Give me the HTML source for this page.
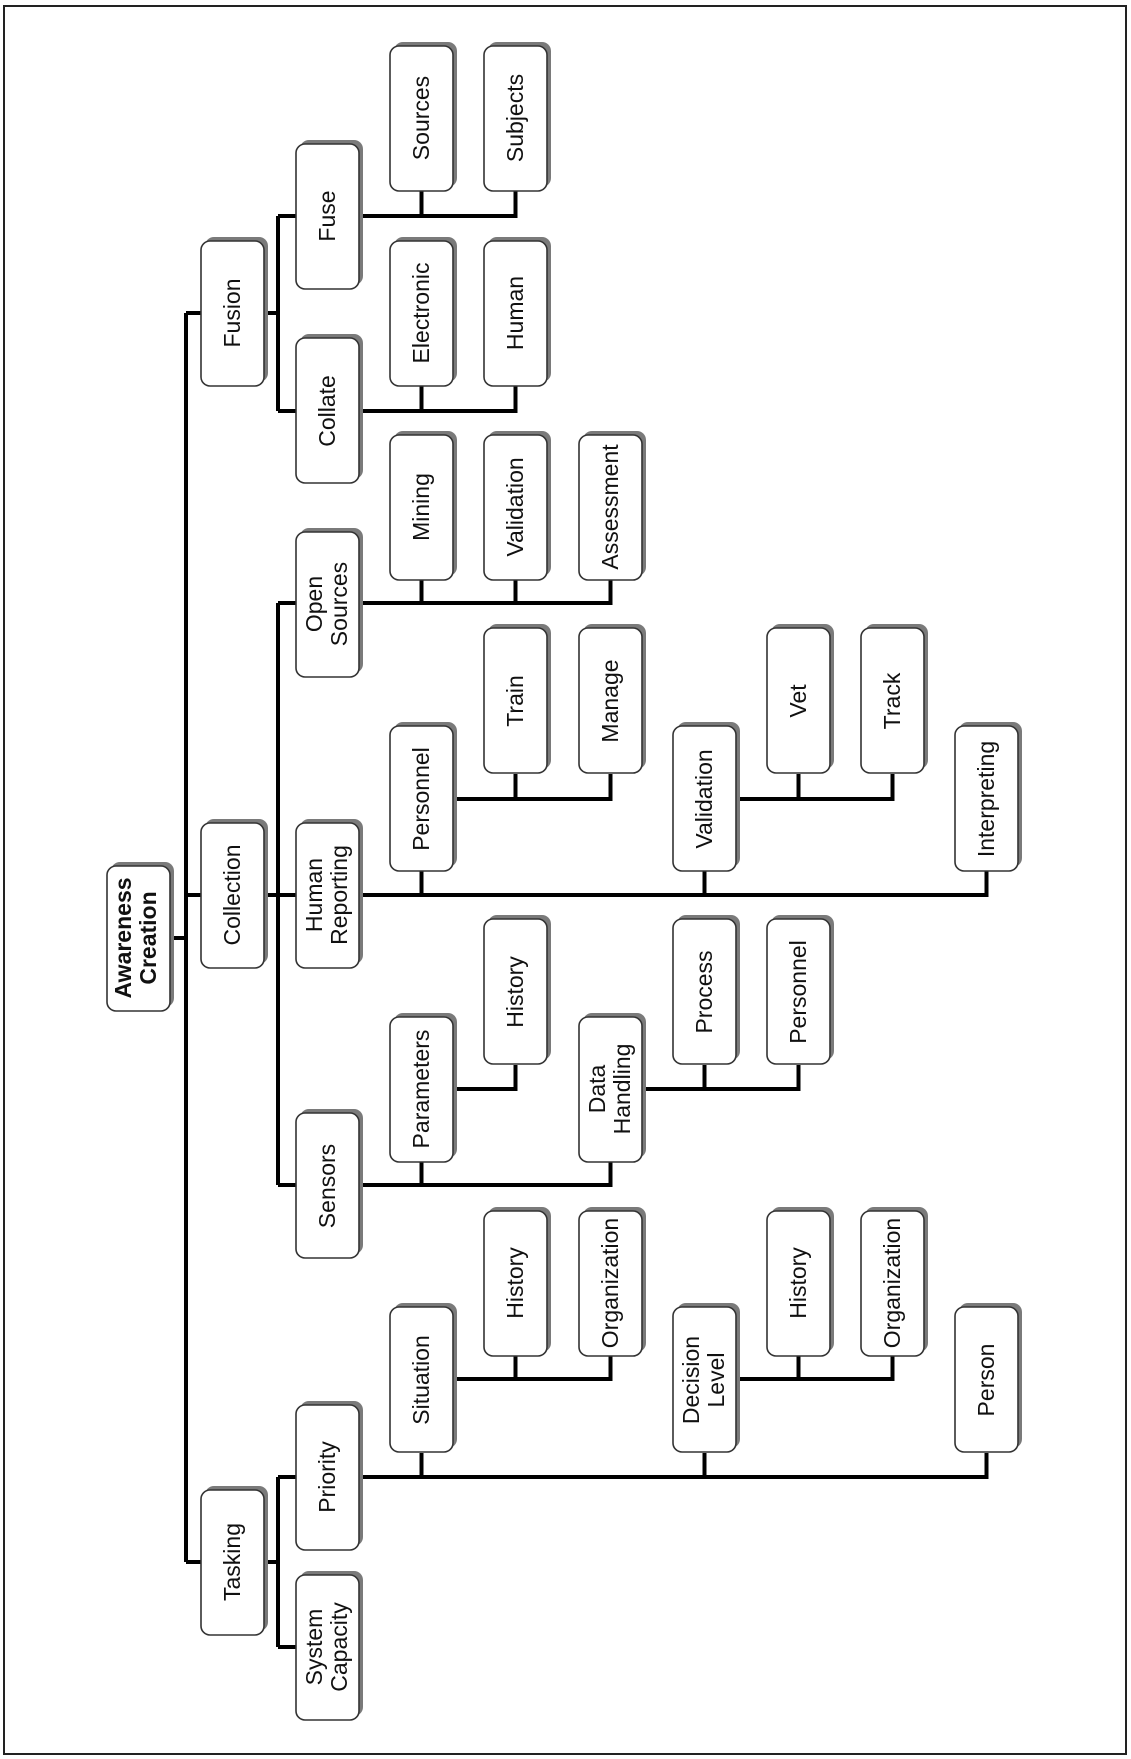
<!DOCTYPE html>
<html><head><meta charset="utf-8"><style>
html,body{margin:0;padding:0;background:#fff}
svg{display:block}
text{font-family:"Liberation Sans",Arial,sans-serif;font-size:23px;fill:#111}
.b{fill:#fff;stroke:#333;stroke-width:1.6}
.s{fill:#7a7a7a}
.l{stroke:#000;stroke-width:4;fill:none}
</style></head><body>
<svg width="1131" height="1759" viewBox="0 0 1131 1759" xmlns="http://www.w3.org/2000/svg">
<rect x="4" y="6" width="1122" height="1748" fill="#fff" stroke="#222" stroke-width="2"/>

<g class="l">
<path d="M170 938H186M186 313V1562M186 313H201M186 895H201M186 1562H201"/>
<path d="M264 313H278M278 216V411M278 216H296M278 411H296"/>
<path d="M359 216H515.5V191M421.5 216V191"/>
<path d="M359 411H515.5V385M421.5 411V385"/>
<path d="M264 895H296M278 603V1185M278 603H296M278 1185H296"/>
<path d="M359 603H610.5V580M421.5 603V580M515.5 603V580"/>
<path d="M359 895H986.5V871M421.5 895V871M704.5 895V871"/>
<path d="M453 799H610.5V774M515.5 799V774"/>
<path d="M736 799H892.5V774M798.5 799V774"/>
<path d="M359 1185H610.5V1162M421.5 1185V1162"/>
<path d="M453 1089H515.5V1065"/>
<path d="M642 1089H798.5V1065M704.5 1089V1065"/>
<path d="M264 1562H278M278 1477V1647M278 1477H296M278 1647H296"/>
<path d="M359 1477H986.5V1453M421.5 1477V1453M704.5 1477V1453"/>
<path d="M453 1379H610.5V1355M515.5 1379V1355"/>
<path d="M736 1379H892.5V1355M798.5 1379V1355"/>
</g>

<g>
<rect class="s" x="111" y="862" width="63" height="145" rx="9"/><rect class="b" x="107" y="866" width="63" height="145" rx="9"/>
<text transform="translate(131,938) rotate(-90)" text-anchor="middle" font-weight="bold">Awareness</text>
<text transform="translate(156,938) rotate(-90)" text-anchor="middle" font-weight="bold">Creation</text>

<rect class="s" x="205" y="237" width="63" height="145" rx="9"/><rect class="b" x="201" y="241" width="63" height="145" rx="9"/>
<text transform="translate(240,313) rotate(-90)" text-anchor="middle">Fusion</text>
<rect class="s" x="205" y="819" width="63" height="145" rx="9"/><rect class="b" x="201" y="823" width="63" height="145" rx="9"/>
<text transform="translate(240,895) rotate(-90)" text-anchor="middle">Collection</text>
<rect class="s" x="205" y="1486" width="63" height="145" rx="9"/><rect class="b" x="201" y="1490" width="63" height="145" rx="9"/>
<text transform="translate(240,1562) rotate(-90)" text-anchor="middle">Tasking</text>

<rect class="s" x="300" y="140" width="63" height="145" rx="9"/><rect class="b" x="296" y="144" width="63" height="145" rx="9"/>
<text transform="translate(335,216) rotate(-90)" text-anchor="middle">Fuse</text>
<rect class="s" x="300" y="334" width="63" height="145" rx="9"/><rect class="b" x="296" y="338" width="63" height="145" rx="9"/>
<text transform="translate(335,411) rotate(-90)" text-anchor="middle">Collate</text>
<rect class="s" x="300" y="528" width="63" height="145" rx="9"/><rect class="b" x="296" y="532" width="63" height="145" rx="9"/>
<text transform="translate(322,604) rotate(-90)" text-anchor="middle">Open</text>
<text transform="translate(347,604) rotate(-90)" text-anchor="middle">Sources</text>
<rect class="s" x="300" y="819" width="63" height="145" rx="9"/><rect class="b" x="296" y="823" width="63" height="145" rx="9"/>
<text transform="translate(322,895) rotate(-90)" text-anchor="middle">Human</text>
<text transform="translate(347,895) rotate(-90)" text-anchor="middle">Reporting</text>
<rect class="s" x="300" y="1109" width="63" height="145" rx="9"/><rect class="b" x="296" y="1113" width="63" height="145" rx="9"/>
<text transform="translate(335,1186) rotate(-90)" text-anchor="middle">Sensors</text>
<rect class="s" x="300" y="1401" width="63" height="145" rx="9"/><rect class="b" x="296" y="1405" width="63" height="145" rx="9"/>
<text transform="translate(335,1477) rotate(-90)" text-anchor="middle">Priority</text>
<rect class="s" x="300" y="1571" width="63" height="145" rx="9"/><rect class="b" x="296" y="1575" width="63" height="145" rx="9"/>
<text transform="translate(322,1647) rotate(-90)" text-anchor="middle">System</text>
<text transform="translate(347,1647) rotate(-90)" text-anchor="middle">Capacity</text>

<rect class="s" x="394" y="42" width="63" height="145" rx="9"/><rect class="b" x="390" y="46" width="63" height="145" rx="9"/>
<text transform="translate(429,118) rotate(-90)" text-anchor="middle">Sources</text>
<rect class="s" x="394" y="237" width="63" height="145" rx="9"/><rect class="b" x="390" y="241" width="63" height="145" rx="9"/>
<text transform="translate(429,313) rotate(-90)" text-anchor="middle">Electronic</text>
<rect class="s" x="394" y="431" width="63" height="145" rx="9"/><rect class="b" x="390" y="435" width="63" height="145" rx="9"/>
<text transform="translate(429,507) rotate(-90)" text-anchor="middle">Mining</text>
<rect class="s" x="394" y="722" width="63" height="145" rx="9"/><rect class="b" x="390" y="726" width="63" height="145" rx="9"/>
<text transform="translate(429,799) rotate(-90)" text-anchor="middle">Personnel</text>
<rect class="s" x="394" y="1013" width="63" height="145" rx="9"/><rect class="b" x="390" y="1017" width="63" height="145" rx="9"/>
<text transform="translate(429,1089) rotate(-90)" text-anchor="middle">Parameters</text>
<rect class="s" x="394" y="1303" width="63" height="145" rx="9"/><rect class="b" x="390" y="1307" width="63" height="145" rx="9"/>
<text transform="translate(429,1380) rotate(-90)" text-anchor="middle">Situation</text>

<rect class="s" x="488" y="42" width="63" height="145" rx="9"/><rect class="b" x="484" y="46" width="63" height="145" rx="9"/>
<text transform="translate(523,118) rotate(-90)" text-anchor="middle">Subjects</text>
<rect class="s" x="488" y="237" width="63" height="145" rx="9"/><rect class="b" x="484" y="241" width="63" height="145" rx="9"/>
<text transform="translate(523,313) rotate(-90)" text-anchor="middle">Human</text>
<rect class="s" x="488" y="431" width="63" height="145" rx="9"/><rect class="b" x="484" y="435" width="63" height="145" rx="9"/>
<text transform="translate(523,507) rotate(-90)" text-anchor="middle">Validation</text>
<rect class="s" x="488" y="624" width="63" height="145" rx="9"/><rect class="b" x="484" y="628" width="63" height="145" rx="9"/>
<text transform="translate(523,701) rotate(-90)" text-anchor="middle">Train</text>
<rect class="s" x="488" y="915" width="63" height="145" rx="9"/><rect class="b" x="484" y="919" width="63" height="145" rx="9"/>
<text transform="translate(523,992) rotate(-90)" text-anchor="middle">History</text>
<rect class="s" x="488" y="1207" width="63" height="145" rx="9"/><rect class="b" x="484" y="1211" width="63" height="145" rx="9"/>
<text transform="translate(523,1283) rotate(-90)" text-anchor="middle">History</text>

<rect class="s" x="583" y="431" width="63" height="145" rx="9"/><rect class="b" x="579" y="435" width="63" height="145" rx="9"/>
<text transform="translate(618,507) rotate(-90)" text-anchor="middle">Assessment</text>
<rect class="s" x="583" y="624" width="63" height="145" rx="9"/><rect class="b" x="579" y="628" width="63" height="145" rx="9"/>
<text transform="translate(618,701) rotate(-90)" text-anchor="middle">Manage</text>
<rect class="s" x="583" y="1013" width="63" height="145" rx="9"/><rect class="b" x="579" y="1017" width="63" height="145" rx="9"/>
<text transform="translate(605,1089) rotate(-90)" text-anchor="middle">Data</text>
<text transform="translate(630,1089) rotate(-90)" text-anchor="middle">Handling</text>
<rect class="s" x="583" y="1207" width="63" height="145" rx="9"/><rect class="b" x="579" y="1211" width="63" height="145" rx="9"/>
<text transform="translate(618,1283) rotate(-90)" text-anchor="middle">Organization</text>

<rect class="s" x="677" y="722" width="63" height="145" rx="9"/><rect class="b" x="673" y="726" width="63" height="145" rx="9"/>
<text transform="translate(712,799) rotate(-90)" text-anchor="middle">Validation</text>
<rect class="s" x="677" y="915" width="63" height="145" rx="9"/><rect class="b" x="673" y="919" width="63" height="145" rx="9"/>
<text transform="translate(712,992) rotate(-90)" text-anchor="middle">Process</text>
<rect class="s" x="677" y="1303" width="63" height="145" rx="9"/><rect class="b" x="673" y="1307" width="63" height="145" rx="9"/>
<text transform="translate(699,1380) rotate(-90)" text-anchor="middle">Decision</text>
<text transform="translate(724,1380) rotate(-90)" text-anchor="middle">Level</text>

<rect class="s" x="771" y="624" width="63" height="145" rx="9"/><rect class="b" x="767" y="628" width="63" height="145" rx="9"/>
<text transform="translate(806,701) rotate(-90)" text-anchor="middle">Vet</text>
<rect class="s" x="771" y="915" width="63" height="145" rx="9"/><rect class="b" x="767" y="919" width="63" height="145" rx="9"/>
<text transform="translate(806,992) rotate(-90)" text-anchor="middle">Personnel</text>
<rect class="s" x="771" y="1207" width="63" height="145" rx="9"/><rect class="b" x="767" y="1211" width="63" height="145" rx="9"/>
<text transform="translate(806,1283) rotate(-90)" text-anchor="middle">History</text>

<rect class="s" x="865" y="624" width="63" height="145" rx="9"/><rect class="b" x="861" y="628" width="63" height="145" rx="9"/>
<text transform="translate(900,701) rotate(-90)" text-anchor="middle">Track</text>
<rect class="s" x="865" y="1207" width="63" height="145" rx="9"/><rect class="b" x="861" y="1211" width="63" height="145" rx="9"/>
<text transform="translate(900,1283) rotate(-90)" text-anchor="middle">Organization</text>

<rect class="s" x="959" y="722" width="63" height="145" rx="9"/><rect class="b" x="955" y="726" width="63" height="145" rx="9"/>
<text transform="translate(994,799) rotate(-90)" text-anchor="middle">Interpreting</text>
<rect class="s" x="959" y="1303" width="63" height="145" rx="9"/><rect class="b" x="955" y="1307" width="63" height="145" rx="9"/>
<text transform="translate(994,1380) rotate(-90)" text-anchor="middle">Person</text>
</g>
</svg>
</body></html>
